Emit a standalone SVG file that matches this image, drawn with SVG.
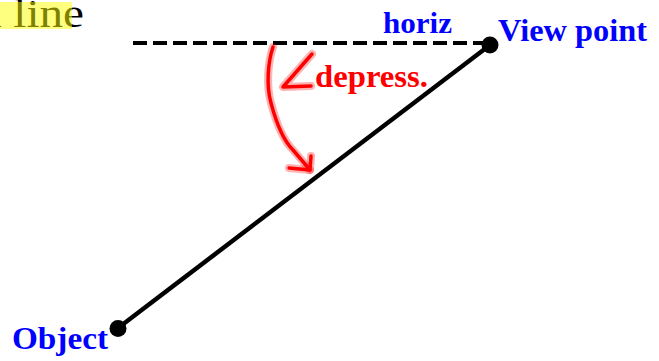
<svg xmlns="http://www.w3.org/2000/svg" width="659" height="361" viewBox="0 0 659 361">
<defs>
<style>
.lbl{font-family:"Liberation Serif","Times New Roman",serif;font-weight:bold;fill:#0000ff;}
.red{fill:none;stroke:#ff0000;stroke-width:3.5;stroke-linecap:round;stroke-linejoin:round;}
.glow{fill:none;stroke:#ff0000;stroke-opacity:0.3;stroke-width:8;stroke-linecap:round;stroke-linejoin:round;}
.dot{fill:#000000;}
</style>
</defs>
<rect width="659" height="361" fill="#ffffff"/>
<g id="caption">
<text x="-22" y="27" font-family="Liberation Serif, serif" font-size="40" fill="#000000" textLength="106" lengthAdjust="spacingAndGlyphs">d line</text>
<rect x="0" y="2" width="72" height="27" fill="#ffff00" fill-opacity="0.5"/>
</g>
<g id="connectors">
<line id="horizontal" x1="133" y1="43" x2="490" y2="43" stroke="#000" stroke-width="4" stroke-dasharray="14 6"/>
<line id="sightline" x1="490" y1="45" x2="118" y2="328" stroke="#000" stroke-width="4.5"/>
<g id="angle-arrow">
<path class="glow" d="M273,47 C268,62 266,85 271,103 C276,122 283,140 293,150 C299,157 305,164 310,170"/>
<path class="glow" d="M311,156 L310,170 L289,168"/>
<path class="red" d="M273,47 C268,62 266,85 271,103 C276,122 283,140 293,150 C299,157 305,164 310,170"/>
<path class="red" d="M311,156 L310,170 L289,168"/>
</g>
</g>
<g id="view-point">
<circle class="dot" cx="490" cy="45" r="8.5"/>
<text class="lbl" x="498" y="41" font-size="31" textLength="149" lengthAdjust="spacingAndGlyphs">View point</text>
</g>
<g id="object">
<circle class="dot" cx="118" cy="328.5" r="8.5"/>
<text class="lbl" x="12" y="349" font-size="32" textLength="96" lengthAdjust="spacingAndGlyphs">Object</text>
</g>
<g id="horiz-label">
<text class="lbl" x="383" y="33" font-size="29" textLength="69" lengthAdjust="spacingAndGlyphs">horiz</text>
</g>
<g id="depression-angle">
<path class="glow" d="M312,54 L283,87 L311,86"/>
<path class="red" d="M312,54 L283,87 L311,86"/>
<text x="315" y="87" font-family="Liberation Serif, serif" font-weight="bold" font-size="32" fill="#ff0000" textLength="113" lengthAdjust="spacingAndGlyphs">depress.</text>
</g>
</svg>
